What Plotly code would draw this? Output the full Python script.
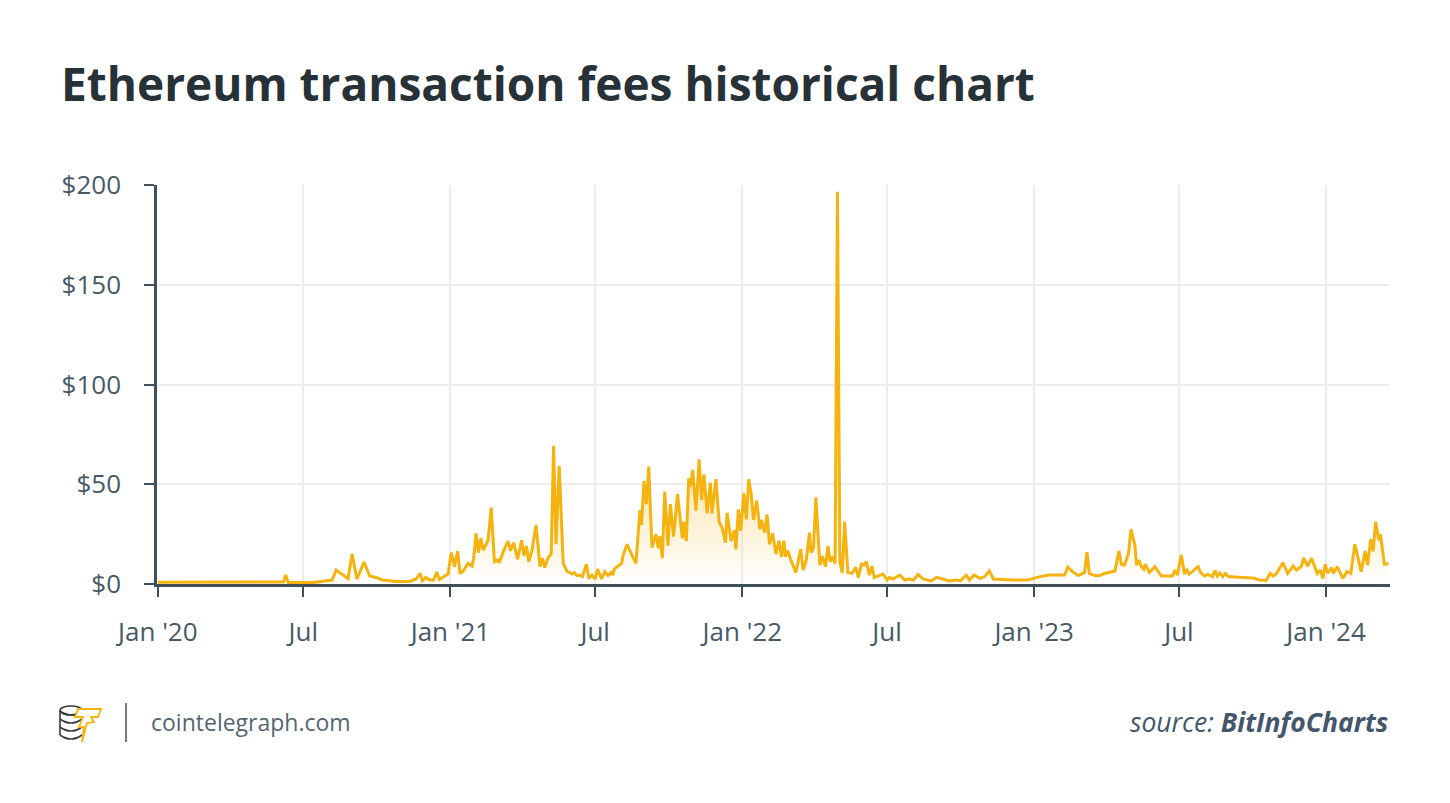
import plotly.graph_objects as go

# ---------------- data ----------------
dates = [
    "2020-01-01", "2020-03-01", "2020-05-01", "2020-06-06", "2020-06-09", "2020-06-12",
    "2020-07-13", "2020-08-06", "2020-08-11", "2020-08-21", "2020-08-26", "2020-08-31",
    "2020-09-06", "2020-09-15", "2020-09-22", "2020-09-30", "2020-10-08", "2020-10-25",
    "2020-11-11", "2020-11-19", "2020-11-24", "2020-11-27", "2020-12-01", "2020-12-06",
    "2020-12-11", "2020-12-15", "2020-12-18", "2020-12-29",
    "2021-01-02", "2021-01-06", "2021-01-10", "2021-01-13", "2021-01-17", "2021-01-23",
    "2021-01-28", "2021-01-30", "2021-02-02", "2021-02-05", "2021-02-08", "2021-02-11",
    "2021-02-17", "2021-02-21", "2021-02-25", "2021-03-01", "2021-03-03", "2021-03-08",
    "2021-03-14", "2021-03-17", "2021-03-21", "2021-03-26", "2021-03-31", "2021-04-03",
    "2021-04-06", "2021-04-09", "2021-04-13", "2021-04-18", "2021-04-23", "2021-04-26",
    "2021-04-29", "2021-05-03", "2021-05-07", "2021-05-10", "2021-05-13", "2021-05-17",
    "2021-05-22", "2021-05-27", "2021-05-30", "2021-06-02", "2021-06-05", "2021-06-08",
    "2021-06-11", "2021-06-15", "2021-06-20", "2021-06-23", "2021-06-27", "2021-07-01",
    "2021-07-04", "2021-07-09", "2021-07-13", "2021-07-17", "2021-07-21", "2021-07-23",
    "2021-07-25", "2021-07-27", "2021-08-03", "2021-08-05", "2021-08-10", "2021-08-15",
    "2021-08-21", "2021-08-26", "2021-08-28", "2021-08-31", "2021-09-03", "2021-09-06",
    "2021-09-10", "2021-09-15", "2021-09-18", "2021-09-20", "2021-09-23", "2021-09-26",
    "2021-09-30", "2021-10-03", "2021-10-07", "2021-10-12", "2021-10-18", "2021-10-20",
    "2021-10-23", "2021-10-26", "2021-10-28", "2021-10-31", "2021-11-04", "2021-11-08",
    "2021-11-11", "2021-11-14", "2021-11-18", "2021-11-22", "2021-11-24", "2021-11-29",
    "2021-12-03", "2021-12-07", "2021-12-11", "2021-12-13", "2021-12-18", "2021-12-22",
    "2021-12-24", "2021-12-27", "2021-12-30",
    "2022-01-03", "2022-01-06", "2022-01-09", "2022-01-12", "2022-01-15", "2022-01-19",
    "2022-01-23", "2022-01-25", "2022-01-29", "2022-02-01", "2022-02-04", "2022-02-08",
    "2022-02-12", "2022-02-16", "2022-02-19", "2022-02-22", "2022-02-24", "2022-02-27",
    "2022-03-03", "2022-03-09", "2022-03-15", "2022-03-18", "2022-03-22", "2022-03-26",
    "2022-03-28", "2022-03-31", "2022-04-03", "2022-04-08", "2022-04-11", "2022-04-15",
    "2022-04-18", "2022-04-21", "2022-04-24", "2022-04-27", "2022-04-30", "2022-05-03",
    "2022-05-06", "2022-05-09", "2022-05-13", "2022-05-18", "2022-05-23", "2022-05-26",
    "2022-05-30", "2022-06-02", "2022-06-05", "2022-06-09", "2022-06-12", "2022-06-15",
    "2022-06-21", "2022-06-26", "2022-07-01", "2022-07-04", "2022-07-08", "2022-07-17",
    "2022-07-23", "2022-07-29", "2022-08-03", "2022-08-09", "2022-08-15", "2022-08-25",
    "2022-09-01", "2022-09-09", "2022-09-17", "2022-09-26", "2022-10-01", "2022-10-08",
    "2022-10-12", "2022-10-18", "2022-10-25", "2022-10-31", "2022-11-06", "2022-11-11",
    "2022-11-19", "2022-12-05", "2022-12-24",
    "2023-01-04", "2023-01-08", "2023-01-20", "2023-02-08", "2023-02-12", "2023-02-18",
    "2023-02-25", "2023-03-05", "2023-03-08", "2023-03-11", "2023-03-18", "2023-03-24",
    "2023-03-30", "2023-04-12", "2023-04-17", "2023-04-20", "2023-04-24", "2023-04-29",
    "2023-05-02", "2023-05-07", "2023-05-09", "2023-05-12", "2023-05-15", "2023-05-18",
    "2023-05-20", "2023-05-25", "2023-06-01", "2023-06-09", "2023-06-23", "2023-06-26",
    "2023-06-29", "2023-07-04", "2023-07-08", "2023-07-11", "2023-07-14", "2023-07-19",
    "2023-07-25", "2023-07-28", "2023-08-02", "2023-08-06", "2023-08-12", "2023-08-15",
    "2023-08-18", "2023-08-21", "2023-08-25", "2023-08-28", "2023-09-01", "2023-09-19",
    "2023-10-02", "2023-10-10", "2023-10-18", "2023-10-23", "2023-10-27", "2023-10-31",
    "2023-11-08", "2023-11-14", "2023-11-21", "2023-11-25", "2023-12-01", "2023-12-04",
    "2023-12-09", "2023-12-14", "2023-12-21", "2023-12-25", "2023-12-28", "2023-12-31",
    "2024-01-03", "2024-01-08", "2024-01-10", "2024-01-15", "2024-01-22", "2024-01-27",
    "2024-02-01", "2024-02-06", "2024-02-14", "2024-02-19", "2024-02-22", "2024-02-26",
    "2024-02-29", "2024-03-03", "2024-03-07", "2024-03-09", "2024-03-14", "2024-03-19",
]

fees = [
    0.9, 0.9, 1.0, 1.0, 4.5, 0.8,
    0.7, 2.0, 7.0, 4.0, 2.7, 15.0,
    2.5, 11.0, 4.0, 3.3, 2.0, 1.3,
    1.3, 2.5, 5.3, 1.6, 3.3, 2.0,
    2.0, 6.0, 2.3, 5.0,
    15.7, 8.7, 16.5, 5.3, 6.5, 10.3,
    9.0, 12.9, 25.4, 15.7, 22.9, 17.0,
    22.0, 38.3, 11.2, 12.0, 10.7, 16.2,
    21.5, 16.7, 20.7, 12.4, 22.0, 14.2,
    19.0, 11.2, 17.0, 29.6, 8.7, 12.9,
    8.2, 13.2, 15.0, 69.3, 19.9, 59.3,
    10.3, 6.2, 5.8, 5.0, 5.8, 4.2,
    4.5, 3.7, 9.9, 2.8, 4.5, 2.5,
    7.5, 2.5, 6.2, 4.2, 5.8, 4.5,
    7.5, 8.2, 10.3, 14.5, 19.9, 15.4,
    10.3, 37.1, 29.6, 51.6, 40.0, 58.8,
    18.2, 25.0, 17.9, 24.0, 12.9, 46.3,
    19.2, 40.0, 23.7, 45.0, 22.9, 31.2,
    21.5, 53.0, 48.8, 57.1, 36.6, 62.5,
    42.1, 55.0, 35.4, 50.8, 35.4, 52.6,
    31.2, 27.9, 20.7, 35.7, 21.5, 27.0,
    17.4, 37.4, 26.7,
    45.5, 32.4, 52.5, 45.5, 32.1, 41.8,
    27.4, 32.1, 25.7, 34.9, 19.9, 25.4,
    15.0, 21.7, 13.7, 21.7, 13.7, 16.7,
    11.7, 5.8, 17.4, 7.0, 12.0, 25.7,
    15.7, 18.2, 43.4, 9.5, 14.0, 8.7,
    19.0, 11.2, 13.7, 10.3, 196.6, 11.2,
    5.7, 31.2, 5.7, 5.3, 8.4, 3.2,
    10.0, 9.5, 11.2, 4.5, 9.0, 3.3,
    4.2, 5.0, 2.0, 3.3, 2.5, 4.5,
    2.0, 2.5, 2.0, 4.8, 2.5, 1.5,
    3.3, 2.3, 1.5, 2.0, 1.7, 4.5,
    2.0, 4.5, 2.8, 3.7, 6.5, 2.5,
    2.3, 2.0, 2.0,
    3.3, 3.7, 4.5, 4.5, 8.4, 6.2,
    4.2, 5.8, 15.9, 5.3, 4.2, 4.2,
    5.3, 6.5, 16.7, 9.9, 9.5, 15.4,
    27.4, 19.5, 9.5, 12.0, 8.7, 7.4,
    9.9, 5.8, 8.7, 4.0, 4.0, 7.0,
    4.5, 14.5, 5.0, 7.0, 5.0, 6.5,
    8.7, 5.8, 4.0, 4.8, 3.7, 6.8,
    4.0, 5.5, 3.7, 5.3, 3.7, 3.3,
    3.0, 2.0, 1.8, 5.3, 4.0, 5.3,
    10.7, 5.3, 9.0, 7.0, 8.7, 12.9,
    9.0, 12.9, 5.3, 7.0, 2.8, 9.9,
    5.5, 8.2, 5.3, 8.7, 2.8, 6.2,
    5.3, 19.9, 6.2, 16.5, 9.5, 22.4,
    16.4, 31.2, 21.9, 25.0, 9.9, 10.3,
]

x_tick_vals = ["2020-01-01", "2020-07-01", "2021-01-01", "2021-07-01", "2022-01-01",
               "2022-07-01", "2023-01-01", "2023-07-01", "2024-01-01"]
x_tick_text = ["Jan '20", "Jul", "Jan '21", "Jul", "Jan '22", "Jul", "Jan '23", "Jul", "Jan '24"]
y_tick_vals = [0, 50, 100, 150, 200]
y_tick_text = ["$0", "$50", "$100", "$150", "$200"]

title_text = "Ethereum transaction fees historical chart"
brand_text = "cointelegraph.com"
source_text = "<i>source: <b>BitInfoCharts</b></i>"

# ---------------- styling / layout ----------------
W, H = 1450, 803
OFF = 8  # page body margin offset in the screenshot
# target screen positions of the plot area
SX0, SX1, SY0, SY1 = 157, 1390, 185, 584
ML = SX0 - OFF
MR = W - (SX1 - OFF)
MT = SY0 - OFF
MB = H - (SY1 - OFF)
PW, PH = W - ML - MR, H - MT - MB

def px(x):
    return (x - SX0) / PW

def py(y):
    return (SY1 - y) / PH

LINE = "#F5B30F"
AXIS = "#3E505C"
TXT = "#475965"
GRID = "#EDEDED"
FONT = "Open Sans"

fig = go.Figure()
fig.add_trace(go.Scatter(
    x=dates, y=fees, mode="lines",
    line=dict(color=LINE, width=3),
    fill="tozeroy",
    fillgradient=dict(type="vertical",
                      colorscale=[[0, "rgba(245,179,15,0.0)"], [1, "rgba(245,179,15,0.34)"]],
                      start=0, stop=60),
    hoverinfo="skip",
))

shapes = []
shapes.append(dict(type="line", xref="paper", yref="paper",
                   x0=px(126), x1=px(126), y0=py(703), y1=py(742),
                   line=dict(color="#7A7A7A", width=2)))

def pth(points, close=False):
    s = "M " + " L ".join(f"{px(a):.5f},{py(b):.5f}" for a, b in points)
    return s + (" Z" if close else "")

def qcurve(x0, x1, y, depth):
    xm = (x0 + x1) / 2
    return f"M {px(x0):.5f},{py(y):.5f} Q {px(xm):.5f},{py(y + depth):.5f} {px(x1):.5f},{py(y):.5f}"

coin = "#3A3A3A"
shapes.append(dict(type="circle", xref="paper", yref="paper",
                   x0=px(60), x1=px(82), y0=py(715), y1=py(706),
                   line=dict(color=coin, width=1.6), fillcolor="white"))
for yy in (711, 719, 727, 735):
    shapes.append(dict(type="path", xref="paper", yref="paper",
                       path=qcurve(60, 82, yy, 8), line=dict(color=coin, width=1.6)))
shapes.append(dict(type="path", xref="paper", yref="paper",
                   path=pth([(60, 711), (60, 735)]), line=dict(color=coin, width=1.6)))
bolt = [(78, 709), (101, 709), (98, 717), (91, 717), (94, 722), (87, 723),
        (82, 742), (84, 727), (79, 727), (83, 717), (75, 717)]
shapes.append(dict(type="path", xref="paper", yref="paper",
                   path=pth(bolt, close=True), fillcolor="white",
                   line=dict(color="#F5B30F", width=1.8)))

annotations = [
    dict(text=brand_text, xref="paper", yref="paper", x=px(149), y=py(722),
         xanchor="left", yanchor="middle", showarrow=False,
         font=dict(family=FONT, size=23, color="#56656F")),
    dict(text=source_text, xref="paper", yref="paper", x=px(1391), y=py(722),
         xanchor="right", yanchor="middle", showarrow=False,
         font=dict(family=FONT, size=26.5, color="#44566A")),
]

fig.update_layout(
    width=W, height=H,
    margin=dict(l=ML, r=MR, t=MT, b=MB, pad=0),
    paper_bgcolor="white", plot_bgcolor="white",
    showlegend=False,
    font=dict(family=FONT, color=TXT),
    title=dict(text=f"<b>{title_text}</b>", x=(61 - OFF) / W, xref="container", xanchor="left",
               y=1 - (85 - OFF) / H, yref="container", yanchor="middle",
               font=dict(family=FONT, size=46, color="#263238")),
    xaxis=dict(
        type="date", range=["2019-12-31", "2024-03-21"],
        tickmode="array", tickvals=x_tick_vals, ticktext=x_tick_text,
        showgrid=True, gridcolor=GRID, gridwidth=1.5,
        showline=True, linecolor=AXIS, linewidth=2.5,
        ticks="outside", ticklen=10, tickwidth=2, tickcolor=AXIS,
        tickfont=dict(family=FONT, size=26, color=TXT),
        ticklabelstandoff=13,
        zeroline=False, fixedrange=True,
    ),
    yaxis=dict(
        range=[0, 200],
        tickmode="array", tickvals=y_tick_vals, ticktext=y_tick_text,
        showgrid=True, gridcolor=GRID, gridwidth=1.5,
        showline=True, linecolor=AXIS, linewidth=2.5,
        ticks="outside", ticklen=10, tickwidth=2, tickcolor=AXIS,
        tickfont=dict(family=FONT, size=26, color=TXT),
        ticklabelstandoff=18,
        zeroline=False, fixedrange=True,
    ),
    shapes=shapes,
    annotations=annotations,
)

fig.write_html("out.html")
